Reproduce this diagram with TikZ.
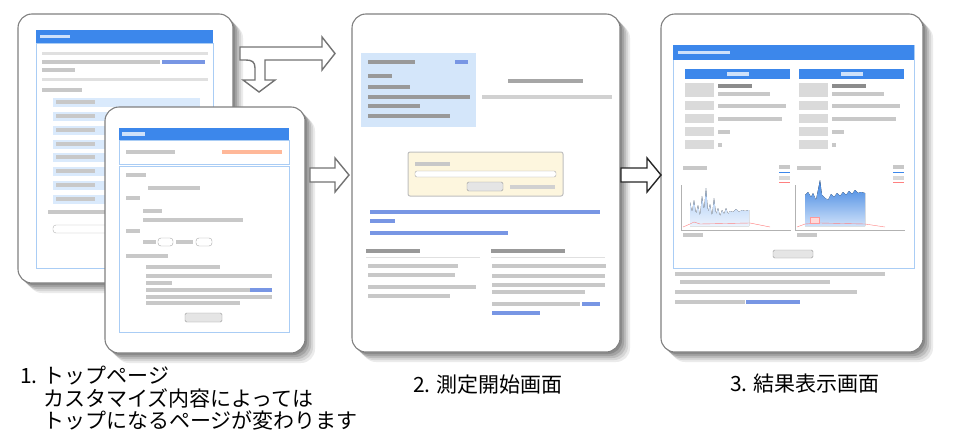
\documentclass[tikz,border=0pt]{standalone}
\usepackage{fontspec}
\setmainfont{Noto Sans CJK JP}
\definecolor{hdrblue}{RGB}{60,135,235}
\definecolor{lineblue}{RGB}{170,205,245}
\definecolor{rowblue}{RGB}{218,234,252}
\definecolor{boxblue}{RGB}{212,230,250}
\definecolor{yellowbox}{RGB}{253,246,222}
\definecolor{txtgray}{RGB}{200,200,200}
\definecolor{linkblue}{RGB}{120,150,228}
\definecolor{cellgray}{RGB}{218,218,218}
\tikzset{
  frame/.style={draw=black!50, line width=1.1pt, fill=white, rounded corners=14pt},
  pane/.style={draw=lineblue, line width=0.8pt},
  hdr/.style={fill=hdrblue},
  bar/.style={fill=txtgray},
  darkbar/.style={fill=black!40},
  link/.style={fill=linkblue},
  btn/.style={draw=black!40, fill=black!10, rounded corners=1.5pt},
  blockarrow/.style={draw=black!55, line width=1.4pt, fill=white, line join=miter},
  caption/.style={inner sep=0pt, font=\fontsize{21}{24}\selectfont}
}
\begin{document}
\begin{tikzpicture}[x=1pt,y=-1pt]
\useasboundingbox (0,0) rectangle (960,442);

\foreach \d/\c in {10/8,8/16,6/26,4/36,2/46}
  \fill[black!\c, rounded corners=14pt] (18+\d,14+\d) rectangle (233+\d,283+\d);
\draw[frame] (18,14) rectangle (233,283);
\fill[hdr] (36,30) rectangle (213,43);
\fill[white!75!hdrblue] (40,34.8) rectangle (70,38.2);
\draw[pane] (36,43) rectangle (213,268);
\fill[black!12] (42,51.8) rectangle (208,54.8);
\fill[bar] (42,60.3) rectangle (160,63.7);
\fill[link] (162,60.3) rectangle (205,63.7);
\fill[bar] (42,68.3) rectangle (75,71.7);
\fill[black!12] (42,77.8) rectangle (208,80.8);
\fill[bar] (42,88.3) rectangle (82,91.7);
\foreach \y in {102,116,130,144,157,171,185,199}
  {\fill[rowblue] (53,\y-4.5) rectangle (200,\y+4.5);
   \fill[bar] (56,\y-1.7) rectangle (95,\y+1.7);}
\fill[bar] (48,210.3) rectangle (110,213.7);
\draw[black!30, rounded corners=3pt] (53,225) rectangle (200,233);

\foreach \d/\c in {10/8,8/16,6/26,4/36,2/46}
  \fill[black!\c, rounded corners=14pt] (105+\d,107+\d) rectangle (305+\d,353+\d);
\draw[frame] (105,107) rectangle (305,353);
\fill[hdr] (119,128) rectangle (289,140);
\fill[white!75!hdrblue] (122,132.3) rectangle (145,135.7);
\draw[pane] (119,140) rectangle (289,164);
\fill[bar] (126,150.3) rectangle (175,153.7);
\fill[red!40!orange!40] (222,150.3) rectangle (282,153.7);
\draw[pane] (119,166) rectangle (289,332);
\foreach \a/\b/\y in {126/146/175, 148/200/188, 126/140/198, 143/162/211, 143/243/220,
    126/140/231, 143/156/242, 126/168/256, 146/220/267, 146/272/276, 146/172/283,
    146/250/290, 146/272/297, 146/240/303}
  \fill[bar] (\a,\y-1.7) rectangle (\b,\y+1.7);
\fill[link] (250,288.3) rectangle (272,291.7);
\draw[black!35, rounded corners=3pt] (158,238) rectangle (173,246);
\draw[black!35, rounded corners=3pt] (196,238) rectangle (212,246);
\fill[bar] (176,240.3) rectangle (193,243.7);
\draw[btn] (185,313) rectangle (222,322);

\foreach \d/\c in {10/8,8/16,6/26,4/36,2/46}
  \fill[black!\c, rounded corners=14pt] (352+\d,14+\d) rectangle (620+\d,352+\d);
\draw[frame] (352,14) rectangle (620,352);
\fill[boxblue] (361,53) rectangle (476,127);
\fill[darkbar] (368,60.3) rectangle (415,63.7);
\fill[link] (455,60.3) rectangle (468,63.7);
\foreach \b/\y in {392/76, 410/87, 470/97, 420/106, 450/116}
  \fill[darkbar] (368,\y-1.7) rectangle (\b,\y+1.7);
\fill[black!35] (508,79.3) rectangle (583,82.7);
\fill[black!18] (482,95.3) rectangle (612,98.7);
\draw[black!25, fill=yellowbox, line width=1pt, rounded corners=2pt] (408,152) rectangle (563,196);
\fill[bar] (415,162.3) rectangle (450,165.7);
\draw[black!35, fill=white, rounded corners=2pt] (415,171) rectangle (556,177);
\draw[btn] (467,182) rectangle (503,191);
\fill[black!18] (510,185.3) rectangle (555,188.7);
\foreach \a/\b/\y in {370/600/212, 370/395/221, 370/508/233}
  \fill[link] (\a,\y-1.7) rectangle (\b,\y+1.7);
\fill[black!40] (366,249.3) rectangle (420,252.7);
\fill[black!40] (491,249.3) rectangle (565,252.7);
\draw[black!12] (366,257) -- (480,257);
\draw[black!12] (491,257) -- (605,257);
\foreach \a/\b/\y in {368/458/266, 368/455/275, 368/476/287, 368/450/296,
    492/606/266, 492/605/276, 492/605/285, 492/585/292, 492/580/304}
  \fill[bar] (\a,\y-1.7) rectangle (\b,\y+1.7);
\fill[link] (582,302.3) rectangle (600,305.7);
\fill[link] (492,311.3) rectangle (540,314.7);

\foreach \d/\c in {10/8,8/16,6/26,4/36,2/46}
  \fill[black!\c, rounded corners=14pt] (661+\d,14+\d) rectangle (923+\d,352+\d);
\draw[frame] (661,14) rectangle (923,352);
\draw[pane] (673,45) rectangle (914,268);
\fill[hdr] (673,45) rectangle (914,60);
\fill[white!75!hdrblue] (678,50.8) rectangle (730,54.2);
\foreach \x in {685,799}
  {\fill[hdr] (\x,69) rectangle (\x+105,79);
   \fill[white!75!hdrblue] (\x+42,72.3) rectangle (\x+64,75.7);
   \fill[cellgray] (\x,83) rectangle (\x+29,97);
   \foreach \y in {101,114,127,140}
     \fill[cellgray] (\x,\y) rectangle (\x+29,\y+9);
   \fill[black!45] (\x+33,84.3) rectangle (\x+67,87.7);
   \fill[bar] (\x+33,92.3) rectangle (\x+85,95.7);
   \fill[bar] (\x+33,104.3) rectangle (\x+101,107.7);
   \fill[bar] (\x+33,117.3) rectangle (\x+97,120.7);
   \fill[bar] (\x+33,130.3) rectangle (\x+45,133.7);
   \fill[bar] (\x+33,143.3) rectangle (\x+37,146.7);
   \fill[bar] (\x-2,166.3) rectangle (\x+22,169.7);
   \fill[bar] (\x+94,165.3) rectangle (\x+105,168.7);
   \draw[hdrblue, line width=1pt] (\x+94,172) -- (\x+105,172);
   \fill[black!15] (\x+94,176.3) rectangle (\x+105,179.7);
   \draw[red!50, line width=1pt] (\x+94,182) -- (\x+105,182);
   \draw[black!30] (\x-4,185) -- (\x-4,230) -- (\x+106,230);
   \fill[bar] (\x-2,233.3) rectangle (\x+18,236.7);}
\fill[top color=hdrblue!45, bottom color=hdrblue!10]
  (690,226) -- (690,202) -- (692,212) -- (694,200) -- (696,214) -- (698,205) -- (700,216)
  -- (702,196) -- (704,210) -- (706,188) -- (708,212) -- (710,204) -- (712,216) -- (714,198)
  -- (716,214) -- (718,208) -- (720,216) -- (722,210) -- (724,214) -- (726,208) -- (728,214)
  -- (730,211) -- (733,212) -- (736,209) -- (739,212) -- (742,210) -- (745,211) -- (749,210)
  -- (749,226) -- cycle;
\fill[top color=hdrblue!95!black, bottom color=hdrblue!25]
  (805,226) -- (805,195) -- (808,192) -- (811,197) -- (813,193) -- (816,200) -- (818,190)
  -- (820,180) -- (822,195) -- (825,198) -- (828,200) -- (831,194) -- (834,197) -- (837,193)
  -- (840,196) -- (843,192) -- (846,195) -- (849,191) -- (852,194) -- (855,190) -- (858,193)
  -- (861,192) -- (865,193) -- (865,226) -- cycle;
\draw[red!50] (683,227) -- (690,224) -- (694,222) -- (700,224) -- (750,223) -- (770,227);
\draw[red!50] (797,227) -- (805,224) -- (820,223) -- (865,224) -- (885,227);
\draw[red!40, fill=red!15] (810,217) rectangle (819,223);
\draw[btn] (773,250) rectangle (813,258);
\foreach \a/\b/\y in {675/885/274, 680/830/282, 675/857/292, 675/745/302}
  \fill[bar] (\a,\y-1.7) rectangle (\b,\y+1.7);
\fill[link] (746,300.3) rectangle (800,303.7);

\draw[blockarrow] (240,47) -- (322,47) -- (322,37) -- (335,53.5) -- (322,70) -- (322,60)
  -- (265,60) -- (265,80) -- (275,80) -- (259,92) -- (243,80) -- (255,80) -- (255,68)
  .. controls (255,62) and (252,60) .. (246,60) -- (240,60) -- cycle;
\draw[blockarrow] (310,168) -- (335,168) -- (335,158) -- (349,175) -- (335,192) -- (335,182)
  -- (310,182) -- cycle;
\draw[blockarrow, draw=black!85] (621,168) -- (647,168) -- (647,158) -- (661,175) -- (647,192)
  -- (647,182) -- (621,182) -- cycle;

\node[caption, anchor=base west] (cap1) at (20,383) {1. トップページ};
\node[caption, anchor=base west] (cap1b) at (43,406) {カスタマイズ内容によっては};
\node[caption, anchor=base west] (cap1c) at (43,428) {トップになるページが変わります};
\node[caption, anchor=base] (cap2) at (488,392) {2. 測定開始画面};
\node[caption, anchor=base] (cap3) at (805,391) {3. 結果表示画面};
\end{tikzpicture}
\end{document}
